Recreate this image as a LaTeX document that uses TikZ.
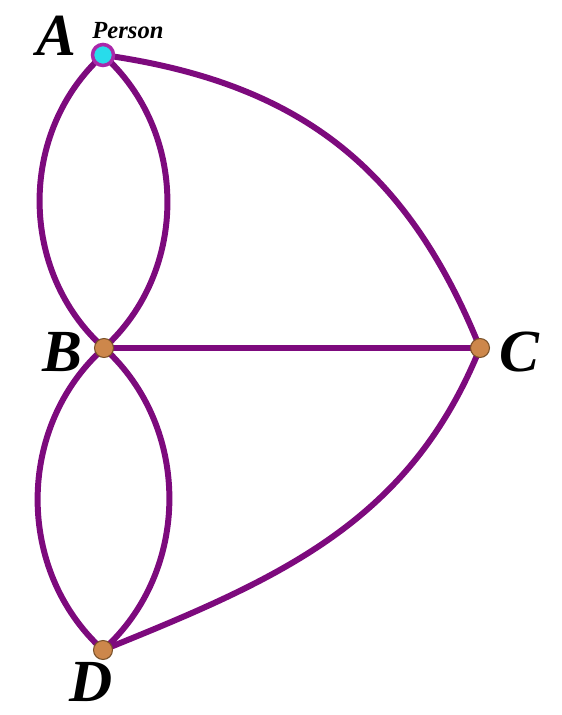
\documentclass[tikz,border=0pt]{standalone}
\usepackage{fontspec}
\setmainfont{Liberation Serif}
\usetikzlibrary{backgrounds}
\definecolor{Bridge}{RGB}{125,10,125}
\definecolor{Ring}{RGB}{170,40,170}
\definecolor{Cyan}{RGB}{40,220,235}
\definecolor{Land}{RGB}{205,135,75}
\definecolor{LandEdge}{RGB}{120,80,40}
\tikzset{
  land/.style={circle,draw=LandEdge,line width=.6pt,fill=Land,minimum size=.38cm,inner sep=0pt},
  start/.style={circle,draw=Ring,line width=2pt,fill=Cyan,minimum size=.42cm,inner sep=0pt},
  bridge/.style={draw=Bridge,line width=3.4pt},
  tag/.style={font=\fontsize{34}{36}\selectfont\bfseries\itshape,text=black,inner sep=0pt},
  small/.style={font=\fontsize{14}{15}\selectfont\bfseries\itshape,text=black,inner sep=0pt}
}
\begin{document}
\begin{tikzpicture}[x=1cm,y=1cm]
  \useasboundingbox (0,0) rectangle (11.22,14.3);
  \node[start] (a) at (2.06,13.2) {};
  \node[land] (b) at (2.08,7.34) {};
  \node[land] (c) at (9.6,7.34) {};
  \node[land] (d) at (2.06,1.3) {};
  \node[tag] (la) at (1.12,13.58) {A};
  \node[small] (pa) at (2.56,13.68) {Person};
  \node[tag] (lb) at (1.24,7.26) {B};
  \node[tag] (lc) at (10.38,7.26) {C};
  \node[tag] (ld) at (1.82,0.66) {D};
  \begin{scope}[on background layer]
    \draw[bridge] (a.center) to[bend right=48] (b.center);
    \draw[bridge] (a.center) to[bend left=48] (b.center);
    \draw[bridge] (b.center) to[bend right=48] (d.center);
    \draw[bridge] (b.center) to[bend left=48] (d.center);
    \draw[bridge] (b.center) -- (c.center);
    \draw[bridge] (a.center) to[out=-8,in=112,looseness=1.05] (c.center);
    \draw[bridge] (c.center) to[out=-112,in=22,looseness=1.0] (d.center);
  \end{scope}
\end{tikzpicture}
\end{document}
